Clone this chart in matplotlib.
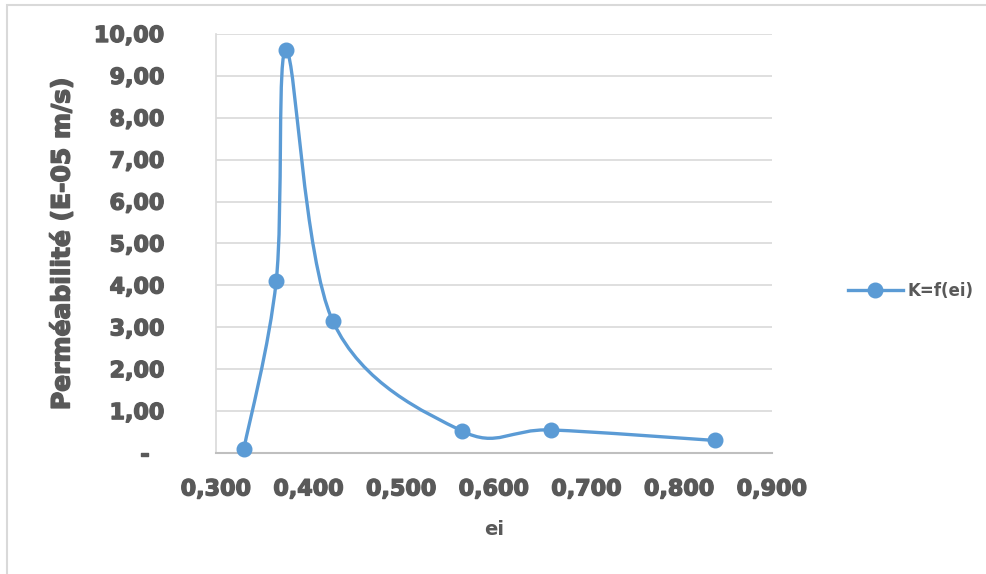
import matplotlib
matplotlib.use("Agg")
import matplotlib.pyplot as plt
import matplotlib.patheffects as pe
from matplotlib.path import Path
from matplotlib.patches import PathPatch, Rectangle
from matplotlib.lines import Line2D
import numpy as np

# Data
ei = [0.330, 0.365, 0.376, 0.426, 0.565, 0.662, 0.838]
K = [0.09, 4.11, 9.61, 3.15, 0.53, 0.55, 0.30]
series_name = "K=f(ei)"
x_label = "ei"
y_label = "Perméabilité (E-05 m/s)"
x_ticks = [0.3, 0.4, 0.5, 0.6, 0.7, 0.8, 0.9]
y_ticks = list(range(0, 11))

W, H = 987, 574
fig = plt.figure(figsize=(W / 100, H / 100), dpi=100)
L, R, T, B = 216, 772, 34, 453
ax = fig.add_axes([L / W, 1 - B / H, (R - L) / W, (B - T) / H])

blue = "#5B9BD5"
grey_txt = "#595959"
heavy = [pe.withStroke(linewidth=1.0, foreground=grey_txt)]

ax.set_xlim(0.3, 0.9)
ax.set_ylim(0, 10)

# gridlines
ax.set_yticks(y_ticks)
ax.set_xticks(x_ticks)
ax.grid(axis="y", color="#D9D9D9", lw=1.2)
ax.set_axisbelow(True)
for s in ["top", "right"]:
    ax.spines[s].set_visible(False)
ax.spines["left"].set_color("#D9D9D9")
ax.spines["left"].set_linewidth(1.2)
ax.spines["bottom"].set_color("#BFBFBF")
ax.spines["bottom"].set_linewidth(1.5)
ax.tick_params(length=0)

ylabels = ["-\u2007" if v == 0 else f"{v:.2f}".replace(".", ",") for v in y_ticks]
xlabels = [f"{v:.3f}".replace(".", ",") for v in x_ticks]
ax.set_yticklabels(ylabels, fontsize=16, fontweight="bold", color=grey_txt,
                   family="DejaVu Sans")
ax.set_xticklabels(xlabels, fontsize=16, fontweight="bold", color=grey_txt,
                   family="DejaVu Sans")
for t in ax.get_xticklabels() + ax.get_yticklabels():
    t.set_path_effects(heavy)
ax.tick_params(axis="y", pad=37)
ax.tick_params(axis="x", pad=19)

ax.set_xlabel(x_label, fontsize=14, fontweight="bold", color=grey_txt,
              family="DejaVu Sans", labelpad=15)
ax.set_ylabel(y_label, fontsize=18, fontweight="bold", color=grey_txt,
              family="DejaVu Sans", labelpad=14,
              path_effects=[pe.withStroke(linewidth=1.1, foreground=grey_txt)])

# Smoothed line (Catmull-Rom style Bezier as in spreadsheet smoothing)
P = np.column_stack([ei, K])
n = len(P)
verts = [tuple(P[0])]
codes = [Path.MOVETO]
for i in range(n - 1):
    p0 = P[i - 1] if i > 0 else P[i]
    p1 = P[i]
    p2 = P[i + 1]
    p3 = P[i + 2] if i + 2 < n else P[i + 1]
    c1 = p1 + (p2 - p0) / 6.0
    c2 = p2 - (p3 - p1) / 6.0
    verts += [tuple(c1), tuple(c2), tuple(p2)]
    codes += [Path.CURVE4] * 3
ax.add_patch(PathPatch(Path(verts, codes), facecolor="none", edgecolor=blue,
                       lw=2.4, capstyle="round", joinstyle="round", zorder=3))
ax.plot(ei, K, linestyle="none", marker="o", markersize=10.5, color=blue,
        zorder=4, clip_on=False)

# Legend
handle = Line2D([], [], color=blue, lw=2.4, marker="o", markersize=10.5)
fig.legend([handle], [series_name], loc="center left",
           bbox_to_anchor=(833 / W, 1 - 291 / H), frameon=False,
           prop={"family": "DejaVu Sans", "weight": "bold", "size": 12},
           labelcolor=grey_txt, handlelength=3.3, handletextpad=0.25)

# outer chart border
fig.patches.append(Rectangle((7 / W, -0.05), 1.05, 1 - 5 / H + 0.05,
                             transform=fig.transFigure, fill=False,
                             edgecolor="#D9D9D9", lw=1.5))

fig.savefig("out.png", dpi=100)
